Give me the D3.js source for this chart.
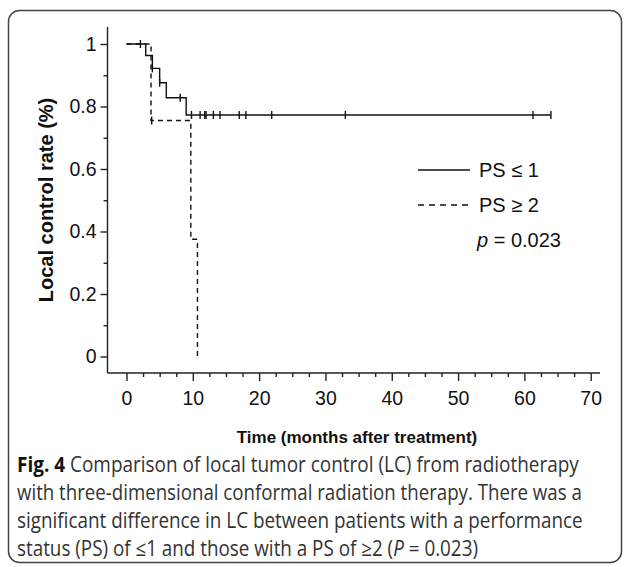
<!DOCTYPE html>
<html>
<head>
<meta charset="utf-8">
<script src="https://cdn.jsdelivr.net/npm/d3@7"></script>
<style>
  body { margin: 0; background: #fff; }
  svg { display: block; }
</style>
</head>
<body>
<div id="chart"></div>
<script>
// Kaplan-Meier style step data
var psLowTimes = [0, 2.9, 3.9, 5.0, 6.0, 9.0, 64];
var psLowRates = [1, 0.963, 0.922, 0.876, 0.828, 0.773, 0.773];
var psLowCensor = [2.1, 3.9, 5.0, 8.1, 9.8, 11.1, 11.8, 12.0, 13.1, 14.1, 17.0, 18.0, 21.9, 33.0, 61.3, 64];

var psHighTimes = [0, 3.7, 9.7, 10.7];
var psHighRates = [1, 0.755, 0.375, 0];
var psHighCensor = [3.8];

var xTicks = [0, 10, 20, 30, 40, 50, 60, 70];
var yTicks = [0, 0.2, 0.4, 0.6, 0.8, 1];
var legendLabels = ["PS \u2264 1", "PS \u2265 2"];
var pText = "= 0.023";

var captionLines = [
    [{t: "Fig. 4", w: "bold"}, {t: " Comparison of local tumor control (LC) from radiotherapy"}],
    [{t: "with three-dimensional conformal radiation therapy. There was a"}],
    [{t: "significant difference in LC between patients with a performance"}],
    [{t: "status (PS) of \u22641 and those with a PS of \u22652 ("}, {t: "P", s: "italic"}, {t: " = 0.023)"}]
];
var captionWidths = [562, 565, 566];

var W = 627, H = 567;
var font = "'Liberation Sans', Arial, sans-serif";

var svg = d3.select("#chart").append("svg")
    .attr("width", W)
    .attr("height", H);

// frame
svg.append("rect")
    .attr("x", 8.5).attr("y", 10.5)
    .attr("width", 613).attr("height", 552)
    .attr("rx", 11).attr("ry", 11)
    .attr("fill", "none")
    .attr("stroke", "#444")
    .attr("stroke-width", 1.5);

var x = d3.scaleLinear().domain([0, 70]).range([126.5, 590.7]);
var y = d3.scaleLinear().domain([0, 1]).range([356.5, 44]);

var axisY = 373, axisX = 107.5;

// axis lines
svg.append("line")
    .attr("x1", axisX).attr("x2", axisX)
    .attr("y1", 27).attr("y2", axisY)
    .attr("stroke", "#222").attr("stroke-width", 1.4);
svg.append("line")
    .attr("x1", axisX).attr("x2", 600)
    .attr("y1", axisY).attr("y2", axisY)
    .attr("stroke", "#222").attr("stroke-width", 1.4);

// x axis: minor ticks then major ticks with labels
var xMinor = d3.range(0, 70.01, 2.5).filter(function(d) { return d % 10 !== 0; });
svg.append("g")
    .attr("transform", "translate(0," + axisY + ")")
    .call(d3.axisBottom(x).tickValues(xMinor).tickSize(4).tickFormat(""))
    .call(function(g) { g.select(".domain").remove(); });

var gx = svg.append("g")
    .attr("transform", "translate(0," + axisY + ")")
    .call(d3.axisBottom(x).tickValues(xTicks).tickSize(8).tickPadding(10).tickFormat(d3.format("d")));
gx.select(".domain").remove();

// y axis
var yMinor = d3.range(0.1, 1.0, 0.2);
svg.append("g")
    .attr("transform", "translate(" + axisX + ",0)")
    .call(d3.axisLeft(y).tickValues(yMinor).tickSize(4).tickFormat(""))
    .call(function(g) { g.select(".domain").remove(); });

var gy = svg.append("g")
    .attr("transform", "translate(" + axisX + ",0)")
    .call(d3.axisLeft(y).tickValues(yTicks).tickSize(7).tickPadding(4).tickFormat(function(d) { return d === 0 || d === 1 ? d : d3.format(".1f")(d); }));
gy.select(".domain").remove();

svg.selectAll(".tick line").attr("stroke", "#222").attr("stroke-width", 1.4);
svg.selectAll(".tick text")
    .attr("font-family", font)
    .attr("font-size", 19.5)
    .attr("fill", "#111");

// axis titles
svg.append("text")
    .attr("x", 357).attr("y", 443)
    .attr("text-anchor", "middle")
    .attr("font-family", font)
    .attr("font-weight", "bold")
    .attr("font-size", 17)
    .attr("fill", "#111")
    .text("Time (months after treatment)");

svg.append("text")
    .attr("transform", "translate(53,200) rotate(-90)")
    .attr("text-anchor", "middle")
    .attr("font-family", font)
    .attr("font-weight", "bold")
    .attr("font-size", 20)
    .attr("fill", "#111")
    .text("Local control rate (%)");

// curves
var line = d3.line()
    .x(function(d) { return x(d[0]); })
    .y(function(d) { return y(d[1]); })
    .curve(d3.curveStepAfter);

function stepValue(times, rates, t) {
    var i = d3.bisectRight(times, t) - 1;
    return rates[Math.max(0, Math.min(i, rates.length - 1))];
}

function drawCurve(times, rates, censor, dash) {
    var pts = times.map(function(t, i) { return [t, rates[i]]; });
    svg.append("path")
        .datum(pts)
        .attr("d", line)
        .attr("fill", "none")
        .attr("stroke", "#111")
        .attr("stroke-width", 1.4)
        .attr("stroke-dasharray", dash);
    svg.append("g").selectAll("line")
        .data(censor)
        .enter().append("line")
        .attr("x1", function(d) { return x(d); })
        .attr("x2", function(d) { return x(d); })
        .attr("y1", function(d) { return y(stepValue(times, rates, d)) - 4; })
        .attr("y2", function(d) { return y(stepValue(times, rates, d)) + 4; })
        .attr("stroke", "#111")
        .attr("stroke-width", 1.4);
}

drawCurve(psHighTimes, psHighRates, psHighCensor, "5,4");
drawCurve(psLowTimes, psLowRates, psLowCensor, null);

// legend
var legend = svg.append("g");
legendLabels.forEach(function(lab, i) {
    var ly = 170 + i * 35;
    legend.append("line")
        .attr("x1", 418).attr("x2", 470)
        .attr("y1", ly).attr("y2", ly)
        .attr("stroke", "#111")
        .attr("stroke-width", 1.3)
        .attr("stroke-dasharray", i === 1 ? "6,5" : null);
    legend.append("text")
        .attr("x", 479).attr("y", ly + 7)
        .attr("font-family", font)
        .attr("font-size", 20)
        .attr("fill", "#111")
        .text(lab);
});
var pt = legend.append("text")
    .attr("x", 477).attr("y", 247)
    .attr("font-family", font)
    .attr("font-size", 20)
    .attr("fill", "#111");
pt.append("tspan").attr("font-style", "italic").text("p");
pt.append("tspan").text(" " + pText);

// caption: squeeze each full line to its width, last line uses the mean squeeze
var capFont = "'Open Sans', 'Noto Sans', sans-serif";
var capTexts = captionLines.map(function(parts, i) {
    var t = svg.append("text")
        .attr("x", 0).attr("y", 0)
        .attr("font-family", capFont)
        .attr("font-size", 21)
        .attr("fill", "#333");
    parts.forEach(function(p) {
        t.append("tspan")
            .attr("font-weight", p.w || "normal")
            .attr("font-style", p.s || "normal")
            .attr("fill", p.w ? "#111" : "#333")
            .text(p.t);
    });
    return t;
});
var scales = captionWidths.map(function(w, i) { return w / capTexts[i].node().getComputedTextLength(); });
var meanScale = d3.mean(scales);
capTexts.forEach(function(t, i) {
    var sx = i < scales.length ? scales[i] : meanScale;
    t.attr("transform", "translate(17," + (472 + i * 28) + ") scale(" + sx + ",1)");
});
</script>
</body>
</html>
